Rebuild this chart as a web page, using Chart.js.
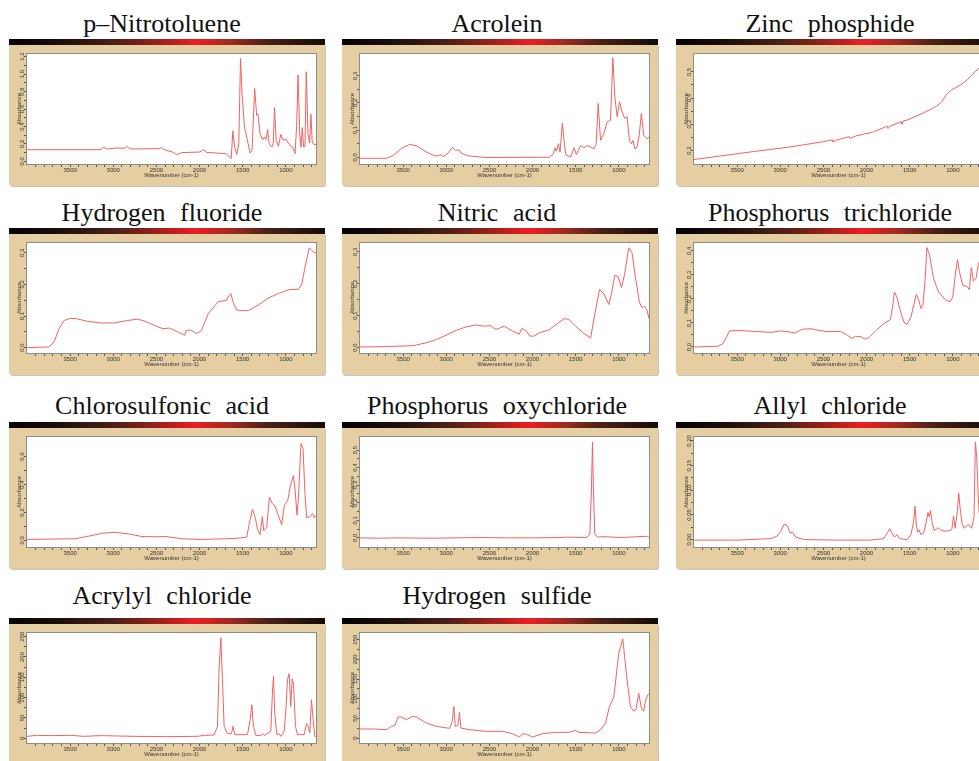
<!DOCTYPE html>
<html>
<head>
<meta charset="utf-8">
<script src="https://cdn.jsdelivr.net/npm/chart.js@4.4.1/dist/chart.umd.min.js"></script>
<style>
  html, body { margin: 0; padding: 0; background: #fff; }
  body { width: 979px; height: 761px; overflow: hidden; position: relative; }
  .title { position: absolute; width: 400px; height: 26px; text-align: center;
           font: 26px/26px "Liberation Serif", serif; word-spacing: 8px; color: #111; white-space: nowrap; }
  .bar { position: absolute; width: 316px; height: 6px;
         background: linear-gradient(90deg, #050303 0%, #1a0d0a 15%, #4a2018 33%, #a0201c 48%, #ee1d23 59%, #a02a20 70%, #4a2018 82%, #140a08 100%); }
  .frame { position: absolute; width: 316px; height: 141px; background: #e5cea1;
           border-radius: 0 0 3px 3px; box-shadow: 1px 1px 0 #cbc3b3; }
  .frame canvas { display: block; }
</style>
</head>
<body>
<script>
// spectra: [wavenumber, value]
const nitro = [[4000,0.134],[3150,0.134],[3109,0.165],[3078,0.142],[2956,0.153],[2871,0.149],[2848,0.172],[2802,0.142],[2465,0.146],[2450,0.161],[2419,0.138],[2304,0.103],[2266,0.077],[2208,0.1],[1997,0.107],[1951,0.134],[1920,0.103],[1690,0.088],[1633,0.031],[1614,0.349],[1594,0.165],[1568,0.08],[1545,0.2],[1525,1.18],[1506,0.76],[1479,0.395],[1441,0.222],[1414,0.096],[1391,0.126],[1361,0.835],[1338,0.529],[1322,0.54],[1299,0.318],[1269,0.249],[1246,0.28],[1230,0.249],[1211,0.364],[1192,0.2],[1161,0.165],[1146,0.2],[1131,0.617],[1111,0.241],[1085,0.172],[1058,0.31],[1031,0.241],[1000,0.257],[962,0.195],[924,0.165],[893,0.088],[874,0.414],[858,0.989],[839,0.318],[824,0.165],[809,0.387],[793,0.165],[778,0.172],[763,1.027],[743,0.318],[724,0.211],[709,0.54],[694,0.222],[674,0.195],[650,0.19]];
const acrolein = [[4000,-0.004],[3692,-0.004],[3615,0.006],[3519,0.033],[3423,0.047],[3346,0.042],[3231,0.019],[3135,0.005],[3077,0.006],[3058,0.01],[3038,0.002],[2988,0.012],[2931,0.036],[2892,0.025],[2854,0.027],[2827,0.015],[2750,0.005],[2538,-0.001],[1808,0],[1762,0.01],[1739,0.035],[1723,0.022],[1700,0.05],[1681,0.019],[1654,0.126],[1635,0.062],[1615,0.01],[1558,0],[1519,0.035],[1492,0.01],[1442,0.043],[1404,0.035],[1365,0.043],[1288,0.031],[1262,0.05],[1239,0.198],[1212,0.062],[1173,0.087],[1135,0.13],[1096,0.136],[1069,0.366],[1046,0.223],[1019,0.149],[992,0.204],[962,0.167],[931,0.143],[904,0.149],[877,0.062],[854,0.05],[835,0.062],[815,0.031],[789,0.037],[762,0.084],[739,0.161],[712,0.081],[673,0.068],[650,0.074]];
const zinc = [[4000,0.166],[3687,0.18],[3297,0.197],[2906,0.213],[2516,0.233],[2400,0.241],[2392,0.233],[2320,0.243],[2200,0.253],[2190,0.246],[2125,0.256],[1930,0.27],[1760,0.293],[1750,0.284],[1734,0.292],[1600,0.31],[1590,0.301],[1570,0.314],[1539,0.315],[1344,0.343],[1188,0.369],[1129,0.385],[1071,0.415],[1012,0.432],[914,0.449],[836,0.468],[758,0.496],[699,0.513],[652,0.526]];
const hf = [[4000,0],[3745,0.002],[3686,0.018],[3628,0.06],[3570,0.086],[3492,0.093],[3415,0.091],[3298,0.083],[3143,0.078],[2988,0.078],[2832,0.086],[2716,0.09],[2638,0.084],[2522,0.07],[2425,0.06],[2347,0.062],[2270,0.052],[2173,0.039],[2153,0.054],[2114,0.056],[2075,0.052],[2037,0.044],[1978,0.054],[1901,0.107],[1784,0.145],[1687,0.15],[1660,0.164],[1637,0.171],[1610,0.143],[1571,0.119],[1513,0.117],[1435,0.117],[1319,0.135],[1202,0.157],[1086,0.171],[970,0.183],[853,0.185],[814,0.201],[775,0.258],[728,0.316],[697,0.307],[666,0.3],[650,0.302]];
const nitric = [[4000,0.002],[3692,0.003],[3385,0.006],[3231,0.015],[3115,0.025],[3000,0.039],[2885,0.054],[2769,0.065],[2654,0.071],[2558,0.067],[2492,0.069],[2423,0.057],[2327,0.067],[2250,0.054],[2154,0.042],[2123,0.06],[2077,0.054],[2031,0.036],[1981,0.036],[1923,0.046],[1808,0.056],[1712,0.075],[1635,0.091],[1577,0.088],[1500,0.067],[1404,0.044],[1327,0.03],[1277,0.107],[1223,0.182],[1173,0.169],[1115,0.135],[1085,0.169],[1046,0.227],[1008,0.222],[969,0.188],[931,0.232],[885,0.313],[846,0.297],[808,0.222],[762,0.143],[731,0.125],[700,0.13],[673,0.117],[650,0.091]];
const pcl3 = [[4000,0],[3723,0.003],[3665,0.014],[3627,0.039],[3588,0.067],[3492,0.069],[3300,0.065],[3108,0.061],[2992,0.067],[2877,0.062],[2831,0.058],[2742,0.074],[2646,0.076],[2550,0.069],[2454,0.064],[2300,0.065],[2223,0.049],[2165,0.035],[2127,0.044],[2069,0.044],[2019,0.033],[1973,0.039],[1896,0.067],[1800,0.097],[1723,0.114],[1692,0.181],[1677,0.229],[1646,0.206],[1615,0.16],[1569,0.104],[1531,0.094],[1485,0.125],[1423,0.219],[1396,0.197],[1369,0.16],[1346,0.174],[1319,0.292],[1300,0.414],[1269,0.382],[1223,0.285],[1165,0.229],[1088,0.197],[1031,0.188],[1000,0.208],[969,0.306],[946,0.364],[923,0.313],[885,0.257],[839,0.253],[808,0.239],[785,0.331],[762,0.275],[731,0.285],[704,0.344],[685,0.361]];
const chloro = [[4000,0.007],[3442,0.012],[3288,0.03],[3133,0.051],[2979,0.058],[2824,0.047],[2670,0.028],[2515,0.026],[2399,0.028],[2206,0.012],[1975,0.007],[1588,0.014],[1453,0.023],[1426,0.112],[1387,0.223],[1357,0.17],[1326,0.077],[1299,0.042],[1272,0.17],[1256,0.07],[1221,0.093],[1190,0.309],[1156,0.263],[1125,0.247],[1086,0.177],[1048,0.112],[1017,0.251],[978,0.286],[947,0.391],[912,0.465],[893,0.367],[870,0.181],[854,0.298],[824,0.693],[800,0.658],[777,0.321],[758,0.163],[719,0.17],[692,0.193],[669,0.163],[650,0.181]];
const pocl3 = [[4000,0],[3800,-0.002],[3600,0],[3133,-0.002],[2900,0],[2592,0.002],[2300,0],[1974,0],[1700,0.002],[1587,0.004],[1375,0.002],[1336,0.019],[1317,0.278],[1305,0.546],[1294,0.278],[1278,0.019],[1240,0.004],[1201,0.007],[969,0.002],[679,0.009],[650,0.004]];
const allyl = [[4000,-0.001],[3492,-0.001],[3108,0.002],[3038,0.007],[2992,0.017],[2962,0.03],[2935,0.031],[2908,0.024],[2885,0.013],[2858,0.015],[2819,0.005],[2723,0],[2338,-0.001],[1954,-0.001],[1800,0.002],[1754,0.015],[1731,0.022],[1704,0.013],[1677,0.005],[1646,0.01],[1615,0.002],[1531,0],[1485,0.01],[1454,0.036],[1438,0.068],[1423,0.03],[1408,0.015],[1392,0.02],[1369,0.01],[1338,0.013],[1308,0.036],[1288,0.055],[1273,0.046],[1258,0.059],[1238,0.033],[1215,0.018],[1173,0.024],[1127,0.018],[1069,0.017],[1012,0.02],[992,0.048],[973,0.023],[946,0.059],[931,0.094],[915,0.063],[892,0.033],[869,0.023],[819,0.031],[781,0.023],[754,0.046],[738,0.198],[723,0.168],[704,0.083],[696,0.056],[665,0.023],[650,0.02]];
const acrylyl = [[4000,4.9],[3879,7.4],[3724,6.6],[3492,7.4],[3338,4.9],[3144,6.6],[2758,4.9],[2372,4.1],[2024,4.9],[1947,7.4],[1831,8.2],[1792,29.5],[1773,173],[1753,247],[1734,144],[1715,29.5],[1676,11.5],[1630,11.5],[1611,29.5],[1591,9],[1444,9],[1413,45.9],[1394,82.8],[1375,29.5],[1348,7.4],[1290,6.6],[1271,11.5],[1251,6.6],[1174,17.2],[1155,111.5],[1143,152.5],[1128,62.3],[1104,9],[1077,11.5],[1058,4.9],[1019,17.2],[996,78.7],[981,144],[961,159],[942,78.7],[927,146],[911,136],[888,29.5],[865,9],[787,9],[760,36],[741,29.5],[722,13],[702,95],[683,46],[664,4.9],[650,4.9]];
const h2s = [[4000,22.9],[3846,22.9],[3692,21.2],[3635,29.6],[3596,31.3],[3558,53.4],[3519,53.4],[3462,46.6],[3392,55],[3346,53.4],[3231,38.1],[3115,29.6],[2962,24.6],[2931,42.4],[2912,80.5],[2896,29.6],[2865,31.3],[2846,65.2],[2831,25.4],[2731,21.2],[2538,16.9],[2346,16.9],[2231,11],[2154,2.5],[2108,11],[2058,8.5],[2000,2.5],[1885,11],[1731,14.4],[1577,14.4],[1500,19.5],[1462,14.4],[1269,12.7],[1212,21.2],[1154,38.1],[1108,80.5],[1058,104],[1000,216],[954,252],[931,203],[904,148],[865,80.5],[827,67.8],[800,73.7],[769,114],[739,76.2],[712,67.8],[692,93.2],[665,110],[650,112]];

// axis ticks
const xLabelTicks = [3500, 3000, 2500, 2000, 1500, 1000];
const nitroTicks = [0, 0.2, 0.4, 0.6, 0.8, 1.0, 1.2];
const acroleinTicks = [0, 0.1, 0.2, 0.3];
const zincTicks = [0.2, 0.3, 0.4, 0.5];
const hfTicks = [0, 0.1, 0.2, 0.3];
const nitricTicks = [0, 0.1, 0.2, 0.3];
const pcl3Ticks = [0, 0.1, 0.2, 0.3, 0.4];
const chloroTicks = [0, 0.2, 0.4, 0.6];
const pocl3Ticks = [0, 0.1, 0.2, 0.3, 0.4, 0.5];
const allylTicks = [0, 0.05, 0.1, 0.15, 0.2];
const acrylylTicks = [0, 50, 100, 150, 200, 250];
const h2sTicks = [0, 50, 100, 150, 200, 250];

const panels = [
  { name: 'p\u2013Nitrotoluene', data: nitro, min: -0.03, max: 1.23, ticks: nitroTicks, dec: 1 },
  { name: 'Acrolein', data: acrolein, min: -0.025, max: 0.38, ticks: acroleinTicks, dec: 1 },
  { name: 'Zinc phosphide', data: zinc, min: 0.149, max: 0.568, ticks: zincTicks, dec: 1 },
  { name: 'Hydrogen fluoride', data: hf, min: -0.017, max: 0.331, ticks: hfTicks, dec: 1 },
  { name: 'Nitric acid', data: nitric, min: -0.017, max: 0.328, ticks: nitricTicks, dec: 1 },
  { name: 'Phosphorus trichloride', data: pcl3, min: -0.025, max: 0.433, ticks: pcl3Ticks, dec: 1 },
  { name: 'Chlorosulfonic acid', data: chloro, min: -0.047, max: 0.74, ticks: chloroTicks, dec: 1 },
  { name: 'Phosphorus oxychloride', data: pocl3, min: -0.052, max: 0.574, ticks: pocl3Ticks, dec: 1 },
  { name: 'Allyl chloride', data: allyl, min: -0.015, max: 0.208, ticks: allylTicks, dec: 2 },
  { name: 'Acrylyl chloride', data: acrylyl, min: -11.5, max: 259, ticks: acrylylTicks, dec: 0 },
  { name: 'Hydrogen sulfide', data: h2s, min: -12.7, max: 267, ticks: h2sTicks, dec: 0 }
];

const colLeft = [9, 342, 676];
const colCenter = [162, 497, 830];
const barTop = [39, 228, 422, 618];
const titleBase = [33, 222, 415, 605];

Chart.defaults.font.family = '"Liberation Sans", Arial, sans-serif';
Chart.defaults.font.size = 6;
Chart.defaults.color = '#333';

// white plot area with a thin grey border
const plotBox = {
  id: 'plotBox',
  beforeDraw(chart) {
    const { ctx, chartArea: a } = chart;
    ctx.save();
    ctx.fillStyle = '#fff';
    ctx.fillRect(a.left, a.top, a.width, a.height);
    ctx.restore();
  },
  afterDraw(chart) {
    const { ctx, chartArea: a } = chart;
    ctx.save();
    ctx.strokeStyle = '#8c8c8c';
    ctx.lineWidth = 1;
    ctx.strokeRect(Math.round(a.left) - 0.5, Math.round(a.top) - 0.5, Math.round(a.width) + 1, Math.round(a.height) + 1);
    ctx.restore();
  }
};

// all x tick marks every 100 cm-1, labels only every 500
const xTicks = [];
for (let v = 3900; v >= 700; v -= 100) xTicks.push(v);

const measure = document.createElement('canvas').getContext('2d');
measure.font = '6px "Liberation Sans"';

panels.forEach((p, i) => {
  const c = i % 3, r = Math.floor(i / 3);

  const t = document.createElement('div');
  t.className = 'title';
  t.textContent = p.name;
  t.style.left = (colCenter[c] - 200) + 'px';
  t.style.top = (titleBase[r] - 22) + 'px';
  document.body.appendChild(t);

  const bar = document.createElement('div');
  bar.className = 'bar';
  bar.style.left = colLeft[c] + 'px';
  bar.style.top = barTop[r] + 'px';
  document.body.appendChild(bar);

  const frame = document.createElement('div');
  frame.className = 'frame';
  frame.style.left = colLeft[c] + 'px';
  frame.style.top = (barTop[r] + 6) + 'px';
  document.body.appendChild(frame);

  const canvas = document.createElement('canvas');
  canvas.width = 316;
  canvas.height = 141;
  frame.appendChild(canvas);

  // major ticks with a minor tick between each pair
  const yTicks = [];
  p.ticks.forEach((v, k) => {
    yTicks.push(v);
    if (k < p.ticks.length - 1) yTicks.push((v + p.ticks[k + 1]) / 2);
  });
  const labels = p.ticks.map(v => v.toFixed(p.dec));
  const widest = Math.max(...labels.map(s => measure.measureText(s).width));

  new Chart(canvas, {
    type: 'line',
    data: {
      datasets: [{
        data: p.data.map(([x, y]) => ({ x, y })),
        borderColor: 'rgb(242, 98, 98)',
        borderWidth: 1,
        pointRadius: 0,
        tension: 0
      }]
    },
    options: {
      responsive: false,
      animation: false,
      layout: { padding: { left: 0, right: 9, top: 9, bottom: 0 } },
      plugins: { legend: { display: false }, tooltip: { enabled: false } },
      scales: {
        x: {
          type: 'linear',
          reverse: true,
          min: 650,
          max: 4000,
          afterBuildTicks: s => { s.ticks = xTicks.map(v => ({ value: v })); },
          afterFit: s => { s.height = 22; },
          border: { display: false },
          grid: { drawOnChartArea: false, tickLength: 3, color: '#555' },
          ticks: {
            autoSkip: false, maxRotation: 0, padding: 0,
            callback: v => xLabelTicks.includes(v) ? String(v) : ''
          },
          title: { display: true, text: 'Wavenumber (cm-1)', padding: { top: 0, bottom: 7.4 } }
        },
        y: {
          min: p.min,
          max: p.max,
          afterBuildTicks: s => { s.ticks = yTicks.map(v => ({ value: v })); },
          afterFit: s => { s.width = 18; },
          border: { display: false },
          grid: { drawOnChartArea: false, tickLength: 3, color: '#555' },
          ticks: {
            autoSkip: false, minRotation: 90, maxRotation: 90, crossAlign: 'center',
            padding: 18 - 3 - widest / 2 - 13.7,
            callback: (v, k) => k % 2 === 0 ? labels[k / 2] : ''
          },
          title: { display: true, text: 'Absorbance', padding: { top: 6.7, bottom: 0 } }
        }
      }
    },
    plugins: [plotBox]
  });
});
</script>
</body>
</html>
